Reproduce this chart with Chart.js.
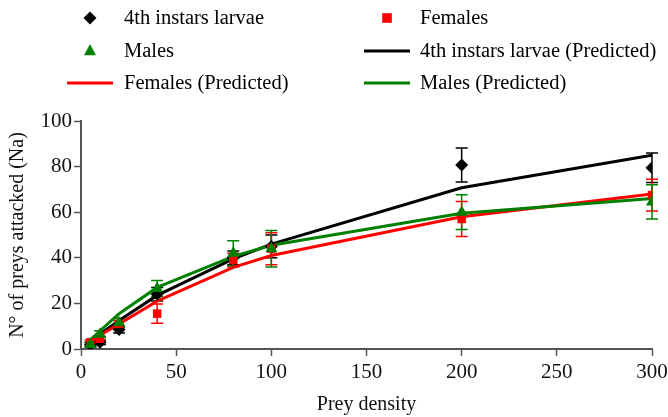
<!DOCTYPE html>
<html>
<head>
<meta charset="utf-8">
<script src="https://cdn.jsdelivr.net/npm/chart.js@4/dist/chart.umd.min.js"></script>
<style>
  html, body { margin: 0; padding: 0; background: #fff; }
  #wrap { width: 668px; height: 417px; position: relative; }
</style>
</head>
<body>
<div id="wrap"><canvas id="chart"></canvas></div>
<script>
// prey densities offered
const densities = [5, 10, 20, 40, 80, 100, 200, 300];

// observed means and error bars
const larvaeObs = [2, 3, 8.5, 24, 40, 45, 80.7, 79.5];
const larvaeErr = [1, 1, 1.5, 3, 3, 5, 7.5, 6.5];
const femalesObs = [3, 4.5, 11, 15.5, 39, 44, 57, 67.5];
const femalesErr = [1, 1, 1.5, 4.2, 3, 7, 7.7, 7];
const malesObs = [2, 6.5, 11.5, 26.5, 42, 44, 60, 64.5];
const malesErr = [1, 1.5, 2, 3.5, 5.5, 8, 7.6, 7.5];

// model predictions
const larvaePred = [3.5, 6.5, 12.5, 23.5, 39.5, 46, 70.7, 85];
const femalesPred = [3, 6, 11, 21, 35.8, 41, 58, 68];
const malesPred = [4, 8, 15.5, 27, 40.6, 45.5, 59.5, 66];

// axis ticks
const xTicks = [0, 50, 100, 150, 200, 250, 300];
const yTicks = [0, 20, 40, 60, 80, 100];

const FONT = 'Liberation Serif';
const BLACK = '#000000';
const RED = '#ff0000';
const GREEN = '#008000';

function pts(ys) {
  return densities.map((x, i) => ({ x: x, y: ys[i] }));
}

function obsSet(label, ys, errs, color, style, radius, order) {
  return {
    label: label, data: pts(ys), errors: errs,
    showLine: false, pointStyle: style, pointRadius: radius,
    backgroundColor: color, borderColor: color, pointBorderWidth: 0,
    order: order
  };
}

function predSet(label, ys, color, order) {
  return {
    label: label, data: pts(ys), showLine: true, pointRadius: 0,
    borderColor: color, backgroundColor: color, borderWidth: 3,
    tension: 0, fill: false, order: order
  };
}

// error bars, drawn under the markers
const errorBars = {
  id: 'errorBars',
  beforeDatasetsDraw(chart) {
    const ctx = chart.ctx;
    const xs = chart.scales.x, ys = chart.scales.y;
    chart.data.datasets.forEach(ds => {
      if (!ds.errors) return;
      ctx.save();
      ctx.strokeStyle = ds.borderColor;
      ctx.lineWidth = 1.5;
      ds.data.forEach((p, i) => {
        const e = ds.errors[i];
        const px = xs.getPixelForValue(p.x);
        const top = ys.getPixelForValue(p.y + e);
        const bot = ys.getPixelForValue(p.y - e);
        ctx.beginPath();
        ctx.moveTo(px, top); ctx.lineTo(px, bot);
        ctx.moveTo(px - 6, top); ctx.lineTo(px + 6, top);
        ctx.moveTo(px - 6, bot); ctx.lineTo(px + 6, bot);
        ctx.stroke();
      });
      ctx.restore();
    });
  }
};

// two-column legend above the plot
const gridLegend = {
  id: 'gridLegend',
  afterDraw(chart) {
    const ctx = chart.ctx;
    const cols = [{ sym: 90, text: 124 }, { sym: 387, text: 420 }];
    const rows = [18, 51, 83];
    ctx.save();
    ctx.font = '20.5px "' + FONT + '"';
    ctx.textBaseline = 'middle';
    chart.data.datasets.forEach((ds, i) => {
      const c = cols[i % 2], y = rows[Math.floor(i / 2)];
      if (ds.showLine) {
        ctx.strokeStyle = ds.borderColor;
        ctx.lineWidth = 3;
        ctx.beginPath();
        ctx.moveTo(c.sym - 23, y); ctx.lineTo(c.sym + 23, y);
        ctx.stroke();
      } else {
        ctx.fillStyle = ds.backgroundColor;
        const r = ds.pointRadius;
        ctx.beginPath();
        if (ds.pointStyle === 'rectRot') {
          ctx.moveTo(c.sym, y - r); ctx.lineTo(c.sym + r, y);
          ctx.lineTo(c.sym, y + r); ctx.lineTo(c.sym - r, y);
        } else if (ds.pointStyle === 'rect') {
          ctx.rect(c.sym - r * 0.8, y - r * 0.8, r * 1.6, r * 1.6);
        } else {
          ctx.moveTo(c.sym, y - r); ctx.lineTo(c.sym + r * 0.85, y + r * 0.6);
          ctx.lineTo(c.sym - r * 0.85, y + r * 0.6);
        }
        ctx.closePath();
        ctx.fill();
      }
      ctx.fillStyle = '#000';
      ctx.fillText(ds.label, c.text, y + 1);
    });
    ctx.restore();
  }
};

new Chart(document.getElementById('chart'), {
  type: 'scatter',
  data: {
    datasets: [
      obsSet('4th instars larvae', larvaeObs, larvaeErr, BLACK, 'rectRot', 6.5, 2),
      obsSet('Females', femalesObs, femalesErr, RED, 'rect', 6, 1),
      obsSet('Males', malesObs, malesErr, GREEN, 'triangle', 7, 0),
      predSet('4th instars larvae (Predicted)', larvaePred, BLACK, 5),
      predSet('Females (Predicted)', femalesPred, RED, 4),
      predSet('Males (Predicted)', malesPred, GREEN, 3)
    ]
  },
  options: {
    responsive: true,
    maintainAspectRatio: false,
    animation: false,
    layout: { autoPadding: false, padding: { top: 121, right: 16, left: 0, bottom: 0 } },
    plugins: { legend: { display: false }, tooltip: { enabled: false } },
    scales: {
      x: {
        type: 'linear', min: 0, max: 300,
        afterBuildTicks(scale) { scale.ticks = xTicks.map(v => ({ value: v })); },
        afterFit(scale) { scale.height = 68; scale.paddingLeft = 0; scale.paddingRight = 0; },
        grid: { drawOnChartArea: false, tickLength: 7, color: '#555', tickWidth: 1.5 },
        border: { color: '#555', width: 2 },
        ticks: { color: '#111', font: { family: FONT, size: 21 }, padding: 4, maxRotation: 0 },
        title: { display: true, text: 'Prey density', color: '#111', font: { family: FONT, size: 20 }, padding: 0 }
      },
      y: {
        type: 'linear', min: 0, max: 100,
        afterBuildTicks(scale) { scale.ticks = yTicks.map(v => ({ value: v })); },
        afterFit(scale) { scale.width = 81; scale.paddingTop = 0; scale.paddingBottom = 0; },
        grid: { drawOnChartArea: false, tickLength: 7, color: '#555', tickWidth: 1.5 },
        border: { color: '#555', width: 2 },
        ticks: { color: '#111', font: { family: FONT, size: 21 }, padding: 2 },
        title: { display: true, text: 'N° of preys attacked (Na)', color: '#111', font: { family: FONT, size: 20 }, padding: { top: 6, bottom: 0 } }
      }
    }
  },
  plugins: [errorBars, gridLegend]
});
</script>
</body>
</html>
